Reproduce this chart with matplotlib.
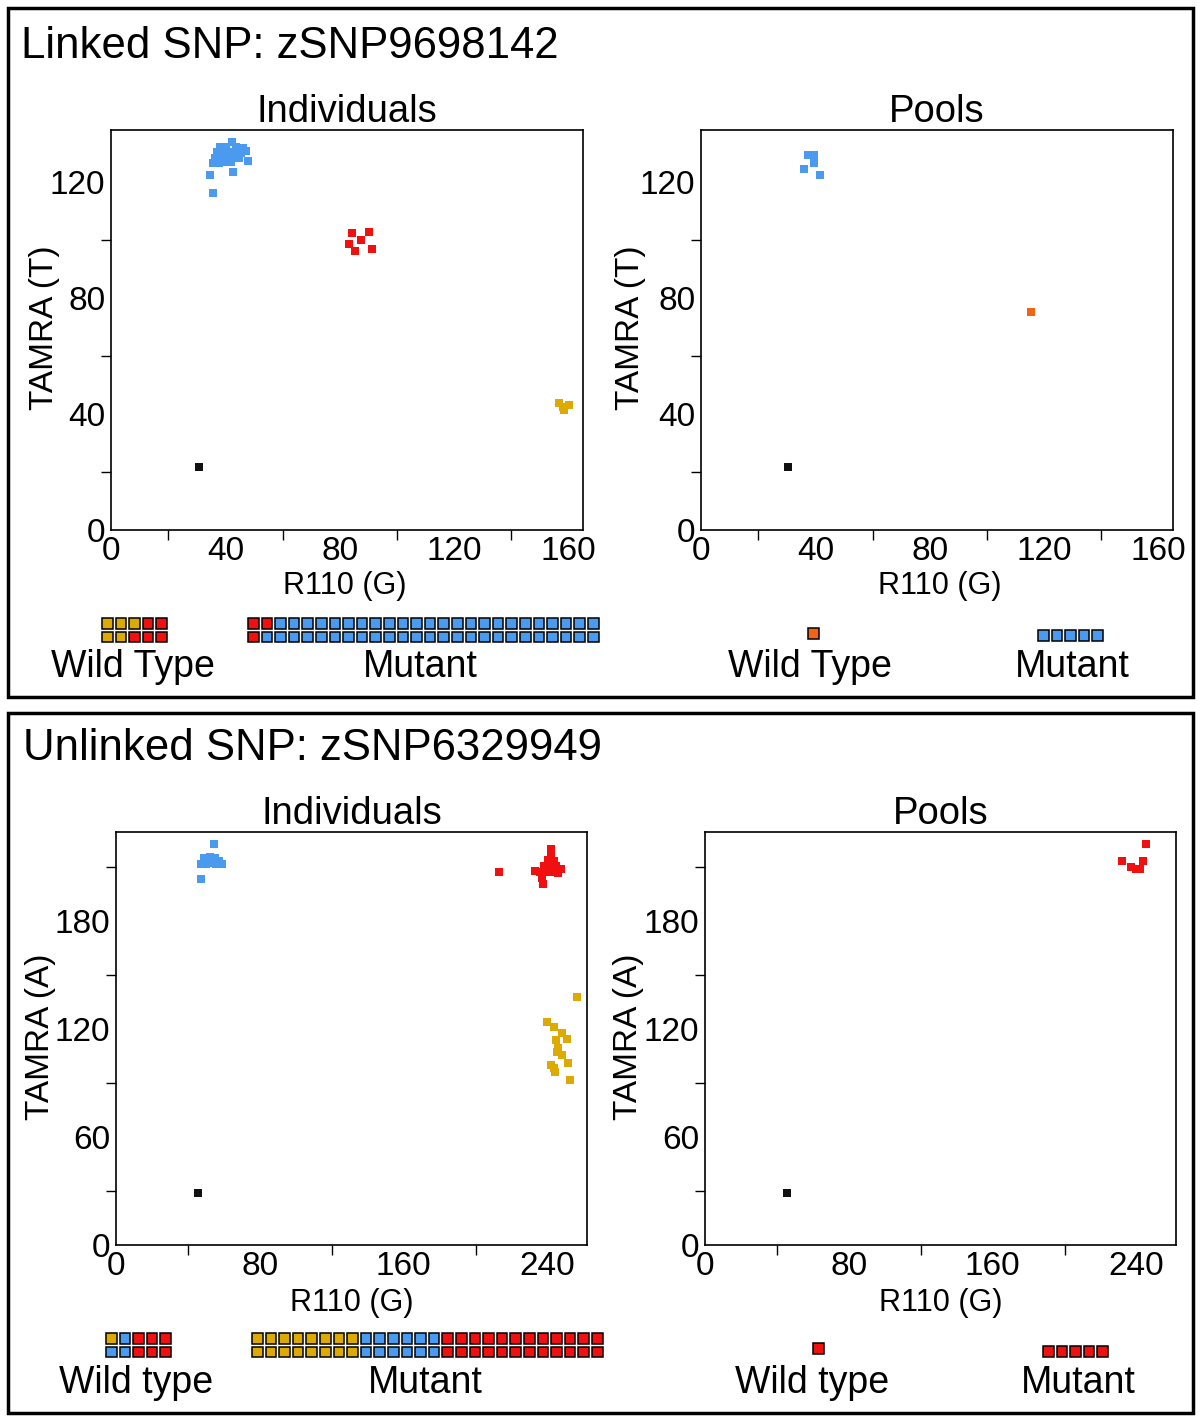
#!/usr/bin/env python3
"""SNP genotyping scatter panels: individuals vs pools, linked and unlinked SNP."""

import matplotlib

matplotlib.use("Agg")
import matplotlib.pyplot as plt
from matplotlib.patches import Rectangle
from matplotlib.ticker import MultipleLocator

plt.rcParams["font.family"] = ["Liberation Sans", "DejaVu Sans"]

W, H = 1200, 1416

BLUE = "#4a9bf0"
RED = "#f01010"
GOLD = "#dcaa00"
ORANGE = "#f06414"
BLACK = "#111111"

# ---- linked SNP, individuals (R110, TAMRA)
lk_ind_blue_x = [42.3, 38.1, 40.2, 43.7, 46.1, 37.0, 39.1, 41.2, 43.3, 45.4, 47.2, 36.3, 38.4,
                 40.5, 42.6, 44.7, 47.9, 35.6, 37.7, 39.8, 41.9, 34.6, 42.6, 35.6]
lk_ind_blue_y = [133.8, 132.1, 132.1, 132.1, 131.7, 130.3, 130.3, 130.3, 130.3, 130.0, 130.7, 128.3,
                 128.3, 128.3, 128.6, 128.3, 127.2, 126.5, 126.5, 126.9, 126.9, 122.4, 123.4, 116.2]
lk_ind_red_x = [84.2, 87.3, 90.1, 83.1, 85.2, 91.2]
lk_ind_red_y = [102.4, 100.0, 102.8, 98.6, 96.2, 96.9]
lk_ind_gold_x = [156.5, 157.9, 160.0, 158.3]
lk_ind_gold_y = [43.8, 42.4, 43.1, 41.4]
lk_ind_ntc = (30.7, 21.7)

# ---- linked SNP, pools
lk_pool_blue_x = [37.4, 39.5, 39.5, 36.0, 41.6]
lk_pool_blue_y = [129.3, 129.3, 126.6, 124.5, 122.4]
lk_pool_orange = (115.3, 75.2)
lk_pool_ntc = (30.4, 21.7)

# ---- unlinked SNP, individuals
ul_ind_blue_x = [54.6, 49.1, 52.4, 55.2, 57.4, 47.4, 50.2, 53.0, 55.8, 59.1, 47.4]
ul_ind_blue_y = [222.8, 215.0, 215.6, 215.0, 213.3, 211.7, 211.7, 212.2, 211.7, 211.7, 203.3]
ul_ind_red_x = [242.0, 242.0, 240.3, 243.6, 238.1, 241.4, 244.7, 247.5, 233.0, 235.8, 239.2,
                242.5, 245.9, 236.9, 237.5, 213.0]
ul_ind_red_y = [220.0, 216.7, 213.9, 213.3, 210.6, 210.6, 210.6, 208.9, 207.8, 207.2, 207.2,
                207.2, 206.7, 203.9, 200.6, 207.2]
ul_ind_gold_x = [256.3, 239.9, 243.6, 248.3, 251.0, 244.7, 246.0, 247.9, 251.6, 241.8, 243.6,
                 244.2, 252.5, 245.1]
ul_ind_gold_y = [137.6, 124.1, 121.3, 117.6, 114.4, 113.9, 109.3, 105.6, 101.0, 100.0, 98.2,
                 96.3, 91.7, 107.4]
ul_ind_ntc = (45.7, 28.9)

# ---- unlinked SNP, pools
ul_pool_red_x = [245.3, 231.9, 236.9, 239.7, 242.0, 243.6]
ul_pool_red_y = [222.8, 213.3, 210.0, 208.9, 208.9, 213.3]
ul_pool_ntc = (45.7, 28.9)

# genotype squares under each panel (rows of colours)
lk_ind_wt = [[GOLD, GOLD, GOLD, RED, RED], [GOLD, GOLD, RED, RED, RED]]
lk_ind_mut = [[RED] * 2 + [BLUE] * 24, [RED] * 1 + [BLUE] * 25]
lk_pool_wt = [[ORANGE]]
lk_pool_mut = [[BLUE] * 5]
ul_ind_wt = [[GOLD, BLUE, RED, RED, RED], [BLUE, BLUE, RED, RED, RED]]
ul_ind_mut = [[GOLD] * 8 + [BLUE] * 6 + [RED] * 12, [GOLD] * 8 + [BLUE] * 6 + [RED] * 12]
ul_pool_wt = [[RED]]
ul_pool_mut = [[RED] * 5]


def px_axes(fig, x0, y0, x1, y1):
    return fig.add_axes([x0 / W, 1 - y1 / H, (x1 - x0) / W, (y1 - y0) / H])


def style(ax, xmax, ymax, xstep, ystep, ylabel, title, ylab_x, xlab_x):
    ax.set_xlim(0, xmax)
    ax.set_ylim(0, ymax)
    ax.xaxis.set_major_locator(MultipleLocator(xstep))
    ax.yaxis.set_major_locator(MultipleLocator(ystep))
    ax.xaxis.set_minor_locator(MultipleLocator(xstep / 2))
    ax.yaxis.set_minor_locator(MultipleLocator(ystep / 2))
    ax.tick_params(which="major", length=0, labelsize=24)
    ax.tick_params(axis="x", which="major", pad=4)
    ax.tick_params(axis="y", which="major", pad=4)
    ax.tick_params(which="minor", length=7, width=1, direction="out")
    ax.set_xlabel("R110 (G)", fontsize=22, va="center")
    ax.xaxis.set_label_coords(xlab_x, -0.14)
    ax.set_ylabel(ylabel, fontsize=24, va="center")
    ax.yaxis.set_label_coords(ylab_x, 0.505)
    ax.set_title(title, fontsize=27.5, pad=2)
    for s in ax.spines.values():
        s.set_linewidth(1.2)


def pts(ax, x, y, c):
    ax.scatter(x, y, marker="s", s=30, c=c, linewidths=0, zorder=3)


def squares(ov, rows, x0, y0, size=10.5, pitch=13.6, rpitch=13.8):
    for r, row in enumerate(rows):
        for i, c in enumerate(row):
            ov.add_patch(Rectangle((x0 + i * pitch, y0 + r * rpitch), size, size,
                                   facecolor=c, edgecolor="black", linewidth=1.1))


fig = plt.figure(figsize=(12, 14.16), dpi=100)

# linked SNP panels
ax = px_axes(fig, 111, 130, 583, 530)
style(ax, 165, 138, 40, 40, "TAMRA (T)", "Individuals", -0.14, 0.496)
pts(ax, lk_ind_blue_x, lk_ind_blue_y, BLUE)
pts(ax, lk_ind_red_x, lk_ind_red_y, RED)
pts(ax, lk_ind_gold_x, lk_ind_gold_y, GOLD)
pts(ax, [lk_ind_ntc[0]], [lk_ind_ntc[1]], BLACK)

ax = px_axes(fig, 701, 130, 1173, 530)
style(ax, 165, 138, 40, 40, "TAMRA (T)", "Pools", -0.15, 0.506)
pts(ax, lk_pool_blue_x, lk_pool_blue_y, BLUE)
pts(ax, [lk_pool_orange[0]], [lk_pool_orange[1]], ORANGE)
pts(ax, [lk_pool_ntc[0]], [lk_pool_ntc[1]], BLACK)

# unlinked SNP panels
ax = px_axes(fig, 116, 832, 587, 1245)
style(ax, 262, 229.5, 80, 60, "TAMRA (A)", "Individuals", -0.161, 0.501)
pts(ax, ul_ind_blue_x, ul_ind_blue_y, BLUE)
pts(ax, ul_ind_red_x, ul_ind_red_y, RED)
pts(ax, ul_ind_gold_x, ul_ind_gold_y, GOLD)
pts(ax, [ul_ind_ntc[0]], [ul_ind_ntc[1]], BLACK)

ax = px_axes(fig, 705, 832, 1176, 1245)
style(ax, 262, 229.5, 80, 60, "TAMRA (A)", "Pools", -0.163, 0.501)
pts(ax, ul_pool_red_x, ul_pool_red_y, RED)
pts(ax, [ul_pool_ntc[0]], [ul_pool_ntc[1]], BLACK)

# overlay in pixel coordinates for frames, headings and genotype squares
ov = fig.add_axes([0, 0, 1, 1], zorder=-1)
ov.set_xlim(0, W)
ov.set_ylim(H, 0)
ov.axis("off")
ov.add_patch(Rectangle((8, 8), 1185, 689, fill=False, edgecolor="black", linewidth=2.5))
ov.add_patch(Rectangle((8, 713), 1185, 700, fill=False, edgecolor="black", linewidth=2.5))
ov.text(21, 46, "Linked SNP: zSNP9698142", fontsize=31.5, va="center", ha="left")
ov.text(23, 748, "Unlinked SNP: zSNP6329949", fontsize=31.5, va="center", ha="left")

squares(ov, lk_ind_wt, 102, 618)
squares(ov, lk_ind_mut, 248, 618)
squares(ov, lk_pool_wt, 808, 628)
squares(ov, lk_pool_mut, 1038, 630)
squares(ov, ul_ind_wt, 106, 1333)
squares(ov, ul_ind_mut, 252, 1333)
squares(ov, ul_pool_wt, 813, 1343)
squares(ov, ul_pool_mut, 1043, 1346)

for x, y, s in [(133, 667, "Wild Type"), (420, 667, "Mutant"), (810, 667, "Wild Type"),
                (1072, 667, "Mutant"), (136, 1383, "Wild type"), (425, 1383, "Mutant"),
                (812, 1383, "Wild type"), (1078, 1383, "Mutant")]:
    ov.text(x, y, s, fontsize=27, ha="center", va="center")

fig.savefig("out.png", dpi=100)
